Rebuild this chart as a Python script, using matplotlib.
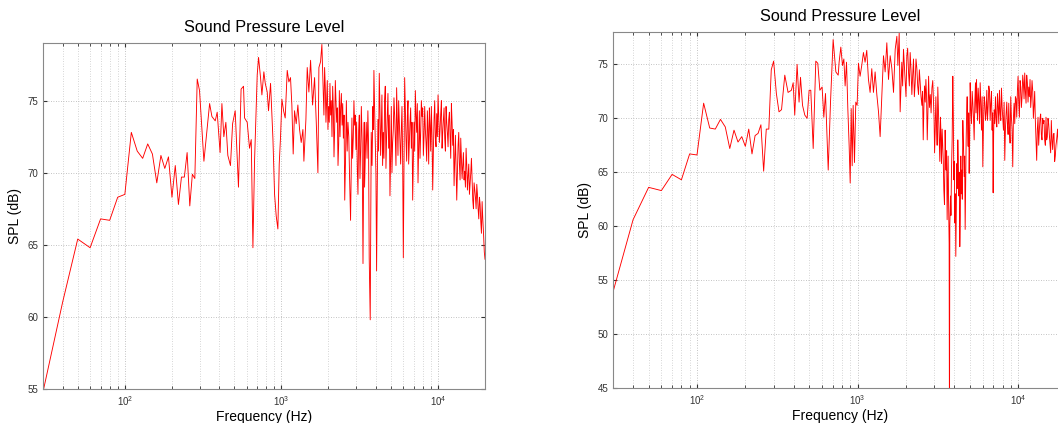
import matplotlib
matplotlib.use("Agg")
import matplotlib.pyplot as plt
from matplotlib.ticker import LogLocator, FixedLocator, NullFormatter

plt.rcParams['font.family'] = ['Liberation Sans', 'DejaVu Sans']

# ---------------- Left panel data ----------------
freq_a = [30, 40, 50, 60, 70, 80, 90, 100, 110, 120, 130, 140, 150, 160, 170, 180,
          190, 200, 210, 220, 230, 240, 250, 260, 270, 280, 290, 300,
          320, 348, 360, 378, 389, 406, 417, 429, 442, 455, 473, 488, 507, 532, 553, 573,
          582, 605, 626, 642, 658, 674, 701, 715, 736, 751, 773, 789, 812, 828, 853, 883,
          905, 927, 950, 969, 988, 1008, 1033, 1058, 1090, 1117, 1144, 1167, 1190, 1214,
          1244, 1275, 1307, 1339, 1373, 1393, 1435, 1463, 1499, 1537, 1583, 1630, 1671,
          1712, 1737, 1780, 1815, 1852, 1889, 1927, 1965, 2004, 2044, 2085, 2127, 2169,
          2212, 2256, 2301, 2347, 2394, 2442, 2490, 2540, 2602, 2664, 2729, 2768, 2823,
          2880, 2937, 2996, 3056, 3117, 3179, 3243, 3323, 3367,
          3401, 3485, 3571, 3641, 3696, 3751, 3844, 3902, 3980, 4059, 4140, 4222, 4306,
          4391, 4478, 4567, 4658, 4750, 4845, 4941, 5039, 5139, 5241, 5345, 5451, 5560,
          5670, 5783, 5897, 6014, 6134, 6255, 6380, 6506, 6635, 6767, 6901, 7038, 7178,
          7320, 7465, 7614, 7765, 7919, 8076, 8236, 8400, 8566, 8736, 8910, 9086, 9267,
          9451, 9638, 9829, 10024, 10223, 10426, 10633, 10844, 11059, 11278, 11502, 11730,
          11963, 12200, 12442, 12689, 12941, 13198, 13460, 13727, 13999, 14277, 14560,
          14849, 15144, 15444, 15751, 16063, 16382, 16707, 17038, 17376, 17721, 18073,
          18431, 18797, 19170, 19550, 19800, 20000]
spl_a = [54.8, 61.0, 65.4, 64.8, 66.8, 66.7, 68.3, 68.5, 72.8, 71.5, 71.0, 72.0, 71.3,
         69.3, 71.2, 70.3, 71.1, 68.3, 70.5, 67.8, 69.7, 69.7, 71.4, 67.7, 69.9, 69.6,
         76.5, 75.7,
         70.8, 74.8, 73.9, 73.6, 74.2, 71.4, 74.8, 72.5, 73.5, 71.2, 70.5, 73.4, 74.3,
         69.0, 75.8, 76.0,
         73.8, 73.5, 71.7, 72.3, 64.8, 70.8, 76.8, 78.0, 76.6, 75.4, 77.0, 76.2, 75.6,
         74.3, 76.2, 72.4, 68.5, 67.0, 66.1, 70.6, 72.5, 75.1, 74.3, 73.8, 77.1, 76.3,
         76.6, 74.7, 71.3, 74.3, 73.4, 74.7, 73.0, 72.1, 73.0, 70.8, 73.7, 77.3, 75.6,
         77.8, 74.7, 76.6, 73.5, 70.0, 77.3, 77.7, 78.9, 75.7, 77.3, 73.5, 76.4, 74.6,
         76.2, 75.0, 76.0, 71.1, 76.4, 73.5, 70.5, 75.7, 74.6, 73.3, 72.4, 68.1, 75.0,
         73.5, 69.6, 66.7, 73.8, 72.4, 73.3, 71.6, 70.3, 72.9, 69.6, 74.6, 63.7, 72.4,
         69.0, 73.5, 74.3, 64.1, 59.8, 72.8, 74.6, 77.1, 72.4, 63.2, 73.7, 76.9, 71.2,
         75.4, 72.8, 75.0, 70.3, 74.1, 71.7, 68.4, 74.6, 72.1, 75.2, 72.4, 75.9, 71.2,
         73.5, 70.6, 74.6, 64.1, 76.6, 72.4, 73.9, 70.6, 73.5, 71.7, 68.1, 73.5, 75.7,
         72.8, 69.3, 74.3, 72.8, 73.9, 71.2, 74.6, 72.1, 74.3, 70.6, 73.3, 74.6, 68.8,
         73.7, 72.4, 74.1, 75.4, 72.1, 74.1, 71.7, 73.7, 72.4, 74.6, 72.8, 73.7,
         72.6, 74.8, 71.9, 69.1, 72.6, 68.1, 71.9, 70.6, 72.4, 69.6, 71.4,
         70.1, 71.7, 68.8, 70.6, 69.2, 71.0, 68.1, 69.3, 68.3, 69.2, 67.5,
         68.3, 66.6, 68.0, 65.9, 64.5, 64.0]
# additional readings inside the dense band (left)
freq_a_band = [1870, 1908, 1946, 1984, 2024, 2064, 2106, 2148, 2190, 2234, 2278, 2324,
               2370, 2418, 2466, 2515, 2571, 2633, 2696, 2795, 2851, 2908, 2966, 3026,
               3086, 3148, 3210, 3283, 3384,
               3443, 3528, 3606, 3797, 3873, 3941, 4019, 4099,
               4181, 4264, 4348, 4434, 4522, 4612, 4704, 4797, 4893, 4990, 5089, 5190,
               5293, 5398, 5505, 5615, 5726, 5840, 5955, 6073, 6194, 6317, 6443, 6570,
               6700, 6834, 6969, 7107, 7249, 7392, 7539, 7689, 7842, 7997, 8156, 8317,
               8483, 8650, 8822, 8998, 9176, 9358, 9544, 9733, 9926, 10123, 10324, 10529,
               10738, 10951, 11168, 11389, 11615, 11846, 12081, 12320, 12565, 12814,
               13069, 13328, 13593, 13862, 14137, 14418, 14703, 14995, 15293, 15596,
               15906, 16221, 16543, 16872, 17206, 17547, 17896, 18251, 18613, 18982, 19359]
spl_a_band = [74.0, 76.0, 75.0, 73.0, 73.5, 74.0, 72.5, 74.5, 73.0, 75.0, 74.5, 72.0,
              72.5, 75.5, 74.8, 74.0, 71.0, 71.5, 72.5, 70.0, 71.0, 75.0, 74.0, 73.5,
              68.5, 74.0, 71.5, 72.0, 73.5,
              71.5, 71.0, 72.0, 70.5, 73.0, 74.5, 70.0, 69.0,
              71.5, 74.5, 73.0, 70.5, 71.0, 76.0, 72.5, 75.5, 74.0, 71.0, 70.0, 73.0,
              74.0, 70.5, 73.5, 75.0, 72.0, 73.0, 71.0, 70.0, 74.5, 70.8, 75.0, 72.0,
              74.5, 73.5, 71.0, 71.5, 74.0, 74.8, 72.0, 71.0, 75.0, 74.5, 72.5, 73.0,
              70.8, 73.0, 74.5, 71.5, 72.5, 71.5, 75.0, 71.8, 72.5, 74.0, 73.0, 75.0,
              72.8, 74.5, 71.5, 73.5, 71.8, 74.2, 71.0, 73.5, 73.0, 71.0,
              70.5, 70.0, 72.8, 69.5, 71.0, 70.5, 69.5, 69.0, 70.5, 69.8,
              68.5, 70.0, 69.5, 67.5, 68.8, 67.5, 68.5, 66.8, 67.8, 65.8, 66.8]

# ---------------- Right panel data ----------------
freq_b = [30, 40, 50, 60, 70, 80, 90, 100, 110, 120, 130, 140, 150, 160, 170, 180,
          190, 200, 210, 220, 230, 240, 250, 260, 270, 280, 290, 300,
          312, 324, 336, 352, 369, 387, 397, 406, 420, 432, 441, 454, 469, 485, 499, 511,
          529, 549, 565, 582, 601, 616, 631, 656, 678, 704, 732, 757,
          767, 786, 805, 821, 836, 853, 869, 886, 899, 912, 925, 938, 956, 974, 993,
          1012, 1036, 1061, 1087, 1113, 1140, 1168, 1196, 1225, 1255, 1285, 1317, 1349,
          1381, 1415, 1449, 1484, 1520, 1557, 1595, 1634, 1673, 1714, 1755, 1781, 1815,
          1840, 1884, 1930, 1977, 2025, 2074, 2124, 2176, 2228, 2282, 2338, 2394, 2452,
          2512, 2561, 2610, 2661, 2713, 2766, 2833, 2901, 2971, 3014,
          3070, 3098, 3157, 3218, 3280, 3327, 3391, 3440, 3506, 3556, 3608, 3660, 3713,
          3731, 3749, 3785, 3840, 3914, 3970, 4028, 4086, 4145, 4205, 4266, 4327, 4390,
          4453, 4518, 4605, 4672, 4740, 4808, 4877, 4948, 5020, 5117, 5215, 5315, 5418,
          5496, 5576, 5683, 5793, 5904, 6018, 6134, 6252, 6372, 6495, 6620, 6747, 6877,
          6977, 7078, 7214, 7353, 7494, 7638, 7785, 7935, 8088, 8243, 8402, 8564, 8728,
          8896, 9067, 9242, 9420, 9601, 9786, 9974, 10166, 10362, 10561, 10765, 10972,
          11183, 11398, 11618, 11841, 12069, 12302, 12538, 12780, 13026, 13276, 13532,
          13792, 14058, 14329, 14605, 14886, 15172, 15464, 15762, 16066, 16375, 16691,
          17012, 17340, 17800, 18500, 19200, 20000]
spl_b = [53.9, 60.6, 63.6, 63.3, 64.8, 64.3, 66.7, 66.6, 71.4, 69.1, 69.0, 69.9, 69.2,
         67.2, 68.9, 67.8, 68.3, 67.4, 69.0, 66.7, 68.4, 68.6, 69.4, 65.1, 69.0, 69.0,
         74.5, 75.3,
         72.3, 70.6, 70.8, 74.0, 72.4, 72.6, 73.3, 70.3, 75.0, 71.5, 73.8, 71.2, 70.3,
         70.0, 72.6, 72.6, 67.2, 75.3, 75.1, 72.6, 72.9, 70.1, 72.3, 65.2, 71.5, 77.3,
         74.3, 74.0,
         75.2, 76.6, 74.9, 75.5, 73.0, 75.2, 70.9, 67.4, 64.0, 70.9, 65.6, 71.2, 65.9,
         71.5, 71.2, 75.1, 73.9, 74.9, 76.1, 75.2, 76.3, 73.6, 72.4, 74.6, 72.4, 74.3,
         72.2, 70.6, 68.3, 72.2, 75.8, 74.3, 77.0, 73.6, 75.8, 74.6, 72.4, 76.4, 77.6,
         74.9, 77.9, 70.6, 75.2, 76.4, 73.6, 75.8, 74.3, 76.1, 72.2, 75.5, 73.3, 74.6,
         72.2, 73.3, 71.2, 68.0, 73.0, 73.6, 68.0, 73.9, 72.2, 72.8, 71.2, 66.8,
         72.0, 69.5, 72.9, 68.0, 70.1, 65.8, 67.4, 63.4, 68.9, 65.2, 60.6, 66.5, 58.4,
         40.0, 60.0, 62.8, 65.2, 73.9, 64.3, 60.3, 57.2, 65.8, 68.0, 62.8, 58.1, 66.5,
         65.2, 69.8, 64.6, 59.7, 68.0, 72.0, 67.4, 64.9, 73.3, 69.5, 71.4, 68.0, 73.3,
         73.6, 69.8, 71.7, 73.3, 68.9, 65.5, 72.0, 69.8, 72.6, 71.1, 72.6, 71.4, 68.9,
         63.1, 70.8, 72.0, 69.2, 71.1, 72.6, 69.8, 71.1, 68.9, 66.1, 70.4, 69.5, 71.4,
         67.7, 70.1, 65.5, 71.4, 72.0, 70.1, 73.9, 70.1, 72.9, 72.0, 73.3, 74.2,
         71.4, 73.3, 72.9, 73.6, 72.0, 72.6, 71.1, 69.8, 66.1, 70.1, 68.9,
         70.4, 68.0, 69.5, 68.0, 70.1, 68.3, 69.5, 67.7, 69.8, 67.1, 68.6,
         66.5, 68.0, 67.0, 67.8, 66.4, 67.2]
# additional readings inside the dense band (right)
freq_b_band = [1907, 1953, 2001, 2049, 2099, 2150, 2202, 2255, 2309, 2366, 2423, 2482,
               2536, 2585, 2635, 2687, 2739, 2799, 2867, 2936, 2992, 3042,
               3084, 3127, 3187, 3249, 3303, 3359, 3415, 3473, 3531, 3582, 3634, 3686,
               3812, 3877, 3942, 3999, 4057, 4115, 4175, 4235, 4296, 4358, 4421, 4485,
               4561, 4638, 4706, 4774, 4842, 4912, 4984, 5068, 5166, 5265,
               5366, 5457, 5536, 5629, 5738, 5848, 5961, 6076, 6193, 6312,
               6433, 6557, 6684, 6812, 6927, 7027, 7146, 7283, 7424, 7566,
               7711, 7860, 8011, 8166, 8322, 8483, 8646, 8812, 8981, 9154,
               9331, 9510, 9693, 9880, 10070, 10264, 10461, 10662, 10868, 11077,
               11290, 11507, 11729, 11955, 12185, 12420, 12658, 12903, 13151, 13403,
               13662, 13924, 14193, 14467, 14745, 15029, 15318, 15612, 15913, 16220,
               16532, 16851, 17175, 17570, 18150, 18850, 19600]
spl_b_band = [73.0, 75.0, 72.0, 76.5, 73.0, 74.5, 74.0, 72.0, 75.5, 73.0, 74.5, 72.0,
              72.5, 71.0, 71.5, 72.0, 70.5, 71.0, 70.5, 73.5, 70.0, 69.0,
              70.5, 67.5, 70.5, 66.0, 68.5, 69.0, 66.0, 62.0, 66.5, 67.0, 63.5, 62.0,
              61.0, 68.0, 70.5, 66.0, 63.0, 61.5, 63.5, 66.0, 65.0, 61.0, 63.0, 62.5,
              67.5, 66.5, 64.0, 70.5, 69.0, 70.5, 68.0, 70.8, 72.5, 70.0,
              71.5, 70.5, 71.8, 72.8, 69.5, 71.5, 72.0, 69.5, 71.5, 70.5,
              69.8, 73.0, 69.8, 72.5, 70.5, 68.5, 69.5, 70.0, 72.3, 69.5,
              70.5, 72.8, 70.0, 71.5, 69.0, 71.5, 68.5, 69.0, 72.0, 69.0,
              70.0, 69.5, 71.8, 72.5, 71.5, 73.5, 71.0, 74.0, 71.8, 72.5,
              74.0, 71.5, 72.0, 71.0, 73.5, 70.0, 72.5, 68.0, 69.0, 67.5,
              70.0, 68.5, 70.0, 69.8, 67.5, 68.0, 70.0, 68.5, 66.8, 68.0,
              68.5, 66.0, 67.5, 69.0, 66.0, 68.5, 65.8]

title_text = "Sound Pressure Level"
xlabel_text = "Frequency (Hz)"
ylabel_text = "SPL (dB)"
xlim = (30, 20000)
ylim_a = (55, 79)
ylim_b = (45, 78)
yticks_a = [55, 60, 65, 70, 75]
yticks_b = [45, 50, 55, 60, 65, 70, 75]


def merged(f_main, s_main, f_band, s_band):
    pairs = sorted(zip(list(f_main) + list(f_band), list(s_main) + list(s_band)))
    return [p[0] for p in pairs], [p[1] for p in pairs]


fig = plt.figure(figsize=(10.58, 4.23), dpi=100)
W, H = 1058, 423
ax_a = fig.add_axes([43 / W, 1 - 389 / H, (485 - 43) / W, (389 - 43) / H])
ax_b = fig.add_axes([613 / W, 1 - 388 / H, (1066.6 - 613) / W, (388 - 32) / H])

panels = [(ax_a, merged(freq_a, spl_a, freq_a_band, spl_a_band), ylim_a, yticks_a),
          (ax_b, merged(freq_b, spl_b, freq_b_band, spl_b_band), ylim_b, yticks_b)]

for ax, (f, s), yl, yt in panels:
    ax.semilogx(f, s, color='#ff0000', lw=0.65)
    ax.set_xlim(*xlim)
    ax.set_ylim(*yl)
    ax.yaxis.set_major_locator(FixedLocator(yt))
    ax.xaxis.set_major_locator(LogLocator(base=10, numticks=10))
    ax.xaxis.set_minor_locator(LogLocator(base=10, subs=range(2, 10), numticks=50))
    ax.xaxis.set_minor_formatter(NullFormatter())
    ax.grid(True, which='major', axis='both', ls=(0, (1, 2)), color='#b0b0b0', lw=0.6)
    ax.grid(True, which='minor', axis='x', ls=(0, (1, 2)), color='#c8c8c8', lw=0.6)
    ax.tick_params(which='both', direction='in', top=True, right=True,
                   labelsize=7, colors='#333333', length=3)
    ax.tick_params(which='minor', length=2)
    for sp in ax.spines.values():
        sp.set_color('#888888')
        sp.set_linewidth(0.8)
    ax.set_title(title_text, fontsize=11.7, pad=8)
    ax.set_xlabel(xlabel_text, fontsize=10, labelpad=2)
    ax.set_ylabel(ylabel_text, fontsize=10, labelpad=4)

fig.savefig("out.png", dpi=100)
